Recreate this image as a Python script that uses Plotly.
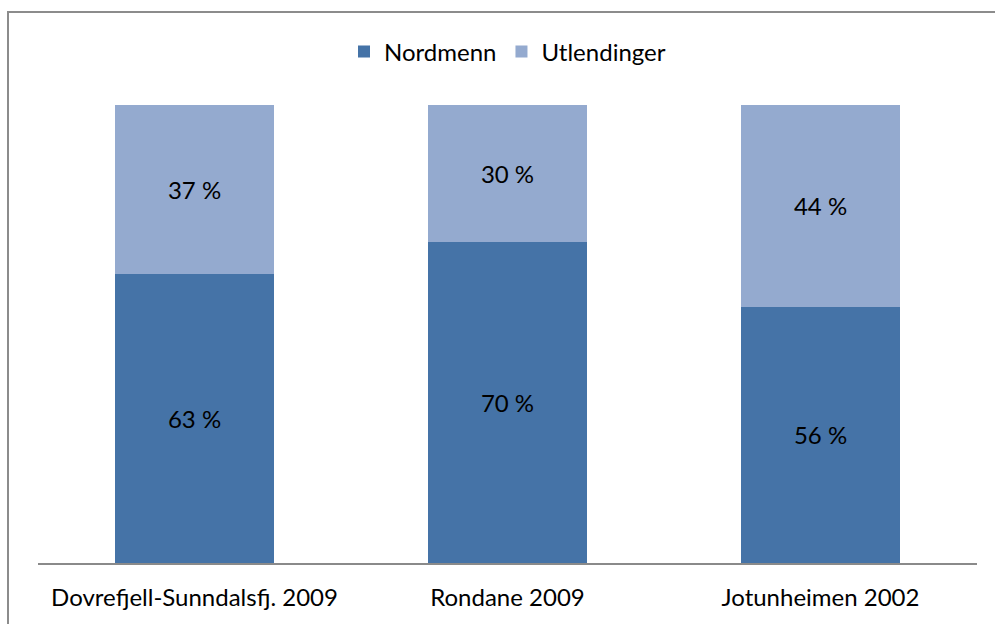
import plotly.graph_objects as go

categories = ["Dovrefjell-Sunndalsfj. 2009", "Rondane 2009", "Jotunheimen 2002"]
nordmenn = [63, 70, 56]
utlendinger = [37, 30, 44]

FONT = "Lato"
FS = 24

fig = go.Figure()
fig.add_trace(go.Bar(
    x=categories, y=nordmenn, name="Nordmenn",
    marker=dict(color="#4573A7", line=dict(width=0)),
    text=[f"{v} %" for v in nordmenn], textposition="inside",
    insidetextanchor="middle", textfont=dict(color="black", size=FS, family=FONT),
    hoverinfo="skip",
))
fig.add_trace(go.Bar(
    x=categories, y=utlendinger, name="Utlendinger",
    marker=dict(color="#94AACF", line=dict(width=0)),
    text=[f"{v} %" for v in utlendinger], textposition="inside",
    insidetextanchor="middle", textfont=dict(color="black", size=FS, family=FONT),
    hoverinfo="skip",
))

ml, mr, mt, mb = 38, 18, 105, 61
W, H = 995, 624
pw, ph = W - ml - mr, H - mt - mb

fig.update_layout(
    width=W, height=H,
    barmode="stack", bargap=0.49,
    margin=dict(l=ml, r=mr, t=mt, b=mb, pad=0),
    paper_bgcolor="white", plot_bgcolor="white",
    font=dict(family=FONT, size=FS, color="black"),
    uniformtext=dict(mode=False),
    showlegend=True,
    legend=dict(orientation="h", x=0.5, xanchor="center",
                y=(H - mb - 52) / ph, yanchor="middle",
                font=dict(size=FS, family=FONT), itemwidth=30,
                traceorder="normal", bgcolor="rgba(0,0,0,0)"),
    xaxis=dict(showline=True, linecolor="#8a8a8a", linewidth=2,
               ticks="", showgrid=False, tickfont=dict(size=FS, family=FONT),
               ticklabelstandoff=12),
    yaxis=dict(range=[0, 100], visible=False, showgrid=False),
    shapes=[dict(type="rect", xref="paper", yref="paper",
                 x0=(8 - ml) / pw, x1=2, y0=-1, y1=(H - mb - 12) / ph,
                 line=dict(color="#8c8c8c", width=2), fillcolor="rgba(0,0,0,0)",
                 layer="below")],
)

fig.write_html("out.html", config={"displayModeBar": False},
               post_script="document.body.style.margin='0';document.body.style.overflow='hidden';")
